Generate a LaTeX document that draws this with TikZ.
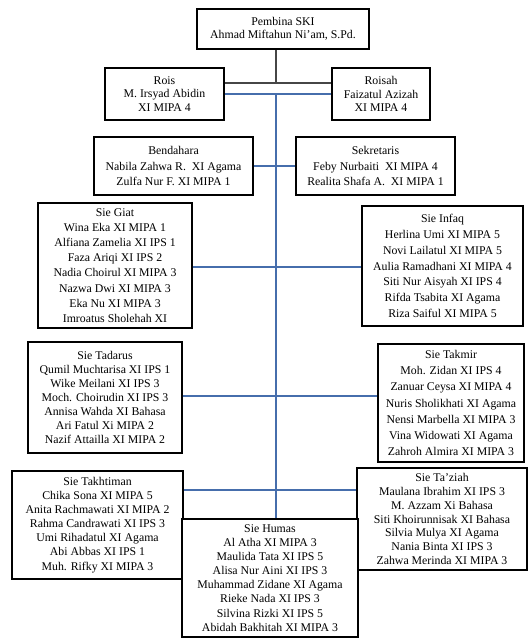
\documentclass[tikz,border=0pt]{standalone}
\usepackage{fontspec}
\setmainfont{Liberation Serif}
\usepackage{xcolor}
\definecolor{linkblue}{RGB}{70,110,172}
\definecolor{linkgray}{RGB}{70,70,70}
\usetikzlibrary{positioning, calc}

\tikzset{
  orgbox/.style n args={2}{draw=black, line width=1.6pt, fill=white, align=center,
    inner sep=0pt, minimum width=#1*0.025cm, minimum height=#2*0.025cm,
    font=\fontsize{8.4}{10}\selectfont},
  linesep/.style={font=\fontsize{8.4}{#1}\selectfont},
  bluelink/.style={draw=linkblue, line width=0.9pt},
  graylink/.style={draw=linkgray, line width=0.9pt}
}

\begin{document}
\begin{tikzpicture}[x=0.025cm, y=-0.025cm]
  \useasboundingbox (0,0) rectangle (528,639);
  % Pembina and ketua
  \node[orgbox={172}{40}, linesep=9.4] (pembina) at (283,29) {Pembina SKI\\Ahmad Miftahun Ni'am, S.Pd.};
  \node[orgbox={119}{52}, linesep=9.4] (rois) at (164.5,94) {Rois\\M. Irsyad Abidin\\XI MIPA 4};
  \node[orgbox={98}{52}, linesep=9.4] (roisah) at (381,94) {Roisah\\Faizatul Azizah\\XI MIPA 4};
  % Bendahara, sekretaris
  \node[orgbox={159}{58}, linesep=11] (bendahara) at (173.5,166) {Bendahara\\Nabila Zahwa R.\ \ XI Agama\\Zulfa Nur F. XI MIPA 1};
  \node[orgbox={159}{58}, linesep=11] (sekretaris) at (375.5,166) {Sekretaris\\Feby Nurbaiti\ \ XI MIPA 4\\Realita Shafa A.\ \ XI MIPA 1};
  % Seksi-seksi
  \node[orgbox={154}{125}, linesep=10.8] (giat) at (115,265.5) {Sie Giat\\Wina Eka XI MIPA 1\\Alfiana Zamelia XI IPS 1\\Faza Ariqi XI IPS 2\\Nadia Choirul XI MIPA 3\\Nazwa Dwi XI MIPA 3\\Eka Nu XI MIPA 3\\Imroatus Sholehah XI};
  \node[orgbox={161}{120}, linesep=11.2] (infaq) at (442.5,266) {Sie Infaq\\Herlina Umi XI MIPA 5\\Novi Lailatul XI MIPA 5\\Aulia Ramadhani XI MIPA 4\\Siti Nur Aisyah XI IPS 4\\Rifda Tsabita XI Agama\\Riza Saiful XI MIPA 5};
  \node[orgbox={154}{111}, linesep=10] (tadarus) at (105,397.5) {Sie Tadarus\\Qumil Muchtarisa XI IPS 1\\Wike Meilani XI IPS 3\\Moch. Choirudin XI IPS 3\\Annisa Wahda XI Bahasa\\Ari Fatul Xi MIPA 2\\Nazif Attailla XI MIPA 2};
  \node[orgbox={146}{118}, linesep=11.5] (takmir) at (451,403) {Sie Takmir\\Moh. Zidan XI IPS 4\\Zanuar Ceysa XI MIPA 4\\Nuris Sholikhati XI Agama\\Nensi Marbella XI MIPA 3\\Vina Widowati XI Agama\\Zahroh Almira XI MIPA 3};
  \node[orgbox={171}{108}, linesep=10] (takhtiman) at (97.5,525) {Sie Takhtiman\\Chika Sona XI MIPA 5\\Anita Rachmawati XI MIPA 2\\Rahma Candrawati XI IPS 3\\Umi Rihadatul XI Agama\\Abi Abbas XI IPS 1\\Muh. Rifky XI MIPA 3};
  \node[orgbox={170}{102}, linesep=9.8] (taziah) at (442,519) {Sie Ta'ziah\\Maulana Ibrahim XI IPS 3\\M. Azzam Xi Bahasa\\Siti Khoirunnisak XI Bahasa\\Silvia Mulya XI Agama\\Nania Binta XI IPS 3\\Zahwa Merinda XI MIPA 3};
  \node[orgbox={176}{118}, linesep=10] (humas) at (270,578) {Sie Humas\\Al Atha XI MIPA 3\\Maulida Tata XI IPS 5\\Alisa Nur Aini XI IPS 3\\Muhammad Zidane XI Agama\\Rieke Nada XI IPS 3\\Silvina Rizki XI IPS 5\\Abidah Bakhitah XI MIPA 3};
  % Garis
  \coordinate (jA) at (276,83);
  \coordinate (jB) at (276,94);
  \coordinate (jD) at (276,267);
  \coordinate (jE) at (276,396);
  \coordinate (jC) at (276,490);
  \draw[graylink] (pembina.south -| jA) -- (jA);
  \draw[graylink] (jA -| rois.east) -- (jA -| roisah.west);
  \draw[bluelink] (jB -| rois.east) -- (jB -| roisah.west);
  \draw[bluelink] (jB) -- (jB |- humas.north);
  \draw[bluelink] (bendahara) -- (sekretaris);
  \draw[bluelink] (jD -| giat.east) -- (jD -| infaq.west);
  \draw[bluelink] (jE -| tadarus.east) -- (jE -| takmir.west);
  \draw[bluelink] (jC -| takhtiman.east) -- (jC -| taziah.west);
\end{tikzpicture}
\end{document}
